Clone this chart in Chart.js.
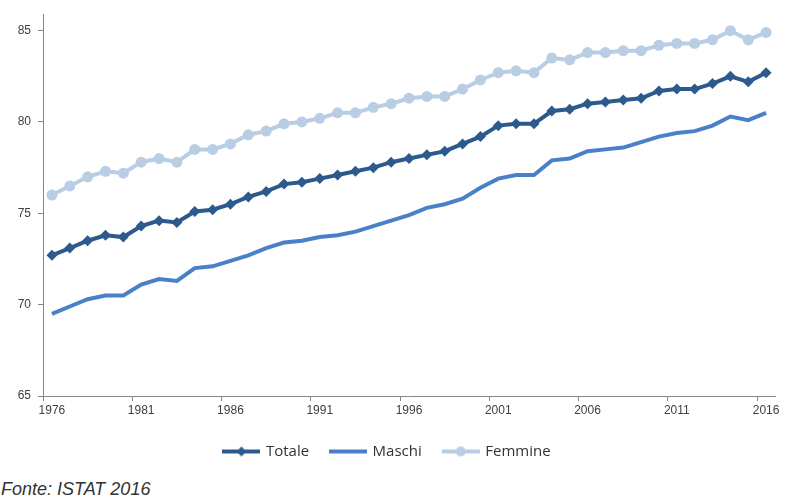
<!DOCTYPE html>
<html lang="it">

<head>
  <meta charset="UTF-8">
  <script src="https://cdn.jsdelivr.net/npm/chart.js"></script>
  <title>Speranza di vita</title>
  <style>
    body { margin: 0; background: #fff; }
    .grafico { position: absolute; left: 0; top: 0; width: 787px; height: 473px; }
    .fonte { position: absolute; left: 1px; top: 479px; font: italic 18px "Liberation Sans", Arial, sans-serif; color: #333; }
  </style>
</head>

<body>
  <div class="grafico">
    <canvas id="myChart"></canvas>
  </div>
  <div class="fonte">Fonte: ISTAT 2016</div>

<script>
  var anni = []
  for (var a = 1976; a <= 2016; a++) anni.push(String(a))

  var totale = [72.7, 73.1, 73.5, 73.8, 73.7, 74.3, 74.6, 74.5, 75.1, 75.2,
    75.5, 75.9, 76.2, 76.6, 76.7, 76.9, 77.1, 77.3, 77.5, 77.8,
    78.0, 78.2, 78.4, 78.8, 79.2, 79.8, 79.9, 79.9, 80.6, 80.7,
    81.0, 81.1, 81.2, 81.3, 81.7, 81.8, 81.8, 82.1, 82.5, 82.2, 82.7]

  var maschi = [69.5, 69.9, 70.3, 70.5, 70.5, 71.1, 71.4, 71.3, 72.0, 72.1,
    72.4, 72.7, 73.1, 73.4, 73.5, 73.7, 73.8, 74.0, 74.3, 74.6,
    74.9, 75.3, 75.5, 75.8, 76.4, 76.9, 77.1, 77.1, 77.9, 78.0,
    78.4, 78.5, 78.6, 78.9, 79.2, 79.4, 79.5, 79.8, 80.3, 80.1, 80.5]

  var femmine = [76.0, 76.5, 77.0, 77.3, 77.2, 77.8, 78.0, 77.8, 78.5, 78.5,
    78.8, 79.3, 79.5, 79.9, 80.0, 80.2, 80.5, 80.5, 80.8, 81.0,
    81.3, 81.4, 81.4, 81.8, 82.3, 82.7, 82.8, 82.7, 83.5, 83.4,
    83.8, 83.8, 83.9, 83.9, 84.2, 84.3, 84.3, 84.5, 85.0, 84.5, 84.9]

  var tickY = [65, 70, 75, 80, 85]

  var coloreTotale = "#2D5A8C"
  var coloreMaschi = "#4A80C8"
  var coloreFemmine = "#B9CDE5"
  var coloreAsse = "#868686"

  // piccole icone per la legenda (linea + marcatore)
  function iconaLegenda(colore, marcatore) {
    var c = document.createElement("canvas")
    c.width = 38
    c.height = 12
    var g = c.getContext("2d")
    g.strokeStyle = colore
    g.lineWidth = 4
    g.beginPath()
    g.moveTo(0, 6)
    g.lineTo(38, 6)
    g.stroke()
    g.fillStyle = colore
    if (marcatore == "rombo") {
      g.beginPath()
      g.moveTo(19, 1); g.lineTo(24, 6); g.lineTo(19, 11); g.lineTo(14, 6)
      g.closePath()
      g.fill()
    } else if (marcatore == "cerchio") {
      g.beginPath()
      g.arc(19, 6, 5, 0, Math.PI * 2)
      g.fill()
    }
    return c
  }

  var icone = [iconaLegenda(coloreTotale, "rombo"), iconaLegenda(coloreMaschi, ""), iconaLegenda(coloreFemmine, "cerchio")]

  const ctx = document.getElementById("myChart");
  const myChart = new Chart(ctx, {
    type: "line",
    data: {
      labels: anni,
      datasets: [{
        label: "Totale",
        data: totale,
        borderColor: coloreTotale,
        backgroundColor: coloreTotale,
        borderWidth: 4,
        pointStyle: "rectRot",
        pointRadius: 5.5,
        pointBorderWidth: 0,
        order: 1,
      }, {
        label: "Maschi",
        data: maschi,
        borderColor: coloreMaschi,
        backgroundColor: coloreMaschi,
        borderWidth: 4,
        pointRadius: 0,
        order: 2,
      }, {
        label: "Femmine",
        data: femmine,
        borderColor: coloreFemmine,
        backgroundColor: coloreFemmine,
        borderWidth: 4,
        pointStyle: "circle",
        pointRadius: 5.5,
        pointBorderWidth: 0,
        order: 3,
      }],
    },
    options: {
      responsive: true,
      maintainAspectRatio: false,
      animation: false,
      layout: { padding: { top: 13, right: 12, left: 0, bottom: 4 } },
      scales: {
        x: {
          type: "category",
          offset: true,
          grid: {
            offset: true,
            drawOnChartArea: false,
            tickLength: 5,
            tickColor: (c) => (c.index % 5 == 0 ? coloreAsse : "rgba(0,0,0,0)"),
          },
          border: { color: coloreAsse, width: 1 },
          ticks: {
            autoSkip: false,
            maxRotation: 0,
            minRotation: 0,
            padding: 2,
            color: "#404040",
            font: { family: "Liberation Sans", size: 12 },
            callback: function (v, i) { return i % 5 == 0 ? anni[i] : "" },
          },
          afterFit: (s) => { s.height = 26 },
        },
        y: {
          min: 65,
          max: 85.9,
          grid: { drawOnChartArea: false, tickLength: 5, color: coloreAsse },
          border: { color: coloreAsse, width: 1 },
          ticks: {
            padding: 7,
            color: "#404040",
            font: { family: "Liberation Sans", size: 12 },
          },
          afterBuildTicks: (s) => { s.ticks = tickY.map((v) => ({ value: v })) },
          afterFit: (s) => { s.width = 43 },
        },
      },
      plugins: {
        tooltip: { enabled: false },
        legend: {
          position: "bottom",
          labels: {
            usePointStyle: true,
            pointStyleWidth: 34,
            padding: 22,
            color: "#333",
            font: { family: "Open Sans", size: 15 },
            generateLabels: function (chart) {
              var items = Chart.defaults.plugins.legend.labels.generateLabels(chart)
              items.forEach(function (it, k) { it.pointStyle = icone[k] })
              return items
            },
          },
        },
      },
    },
  });
</script>
</body>

</html>
